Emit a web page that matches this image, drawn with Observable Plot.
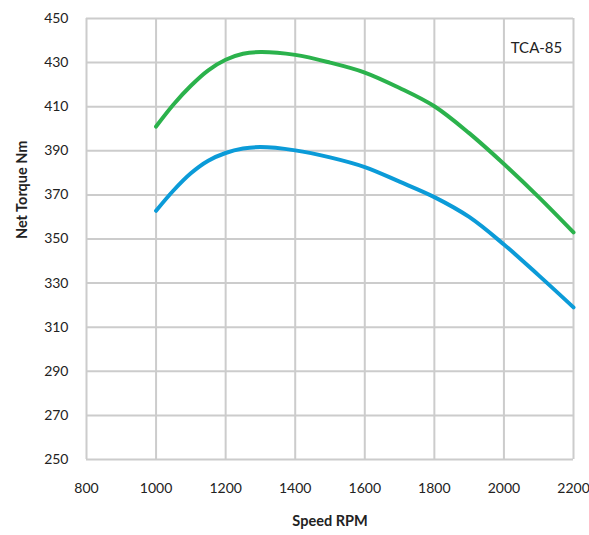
<!DOCTYPE html>
<html><head><meta charset="utf-8">
<script src="https://cdn.jsdelivr.net/npm/d3@7"></script>
<script src="https://cdn.jsdelivr.net/npm/@observablehq/plot@0.6"></script>
<style>body{margin:0;background:#fff;} svg{display:block;}</style>
</head><body><div id="chart"></div>
<script>
const rpm = [1000, 1050, 1100, 1150, 1200, 1250, 1300, 1400, 1500, 1600, 1700, 1800, 1900, 2000, 2100, 2200];
const upperTorque = [401, 411, 419.5, 426.5, 431.3, 434, 434.8, 433.5, 430, 425.5, 418.5, 410.2, 398, 384, 369, 353];
const lowerTorque = [362.8, 372, 379.8, 385.5, 389, 391, 391.7, 390.2, 387, 382.6, 376, 369, 360, 347.5, 333.5, 319];
const xTicks = [800, 1000, 1200, 1400, 1600, 1800, 2000, 2200];
const yTicks = [250, 270, 290, 310, 330, 350, 370, 390, 410, 430, 450];
const seriesLabel = "TCA-85";

const upper = rpm.map((r, i) => ({rpm: r, torque: upperTorque[i]}));
const lower = rpm.map((r, i) => ({rpm: r, torque: lowerTorque[i]}));

const chart = Plot.plot({
  width: 589, height: 535,
  marginLeft: 86, marginRight: 16, marginTop: 18, marginBottom: 76,
  style: {fontFamily: "Lato, sans-serif", fontSize: "14px", color: "#222", background: "#fff"},
  x: {domain: [800, 2200], ticks: xTicks, label: null},
  y: {domain: [250, 450], ticks: yTicks, label: null},
  marks: [
    Plot.gridX(xTicks, {stroke: "#cccccc", strokeOpacity: 1, strokeWidth: 2}),
    Plot.gridY(yTicks, {stroke: "#cccccc", strokeOpacity: 1, strokeWidth: 2}),
    Plot.axisX(xTicks, {tickSize: 0, tickPadding: 24, fontSize: 14, tickFormat: d => String(d)}),
    Plot.axisY(yTicks, {tickSize: 0, tickPadding: 18, fontSize: 14}),
    Plot.line(upper, {x: "rpm", y: "torque", stroke: "#2bb24c", strokeWidth: 4, curve: "catmull-rom"}),
    Plot.line(lower, {x: "rpm", y: "torque", stroke: "#0b9bd8", strokeWidth: 4, curve: "catmull-rom"}),
    Plot.text([seriesLabel], {frameAnchor: "top-right", dy: 24, dx: -37, fontSize: 15, fill: "#222", textAnchor: "middle"}),
    Plot.text(["Speed RPM"], {frameAnchor: "bottom", dy: 66, fontSize: 14.5, fontWeight: "bold", fill: "#222"}),
    Plot.text(["Net Torque Nm"], {frameAnchor: "left", dx: -64, rotate: -90, fontSize: 14.5, fontWeight: "bold", fill: "#222"})
  ]
});
document.getElementById("chart").appendChild(chart);
</script></body></html>
